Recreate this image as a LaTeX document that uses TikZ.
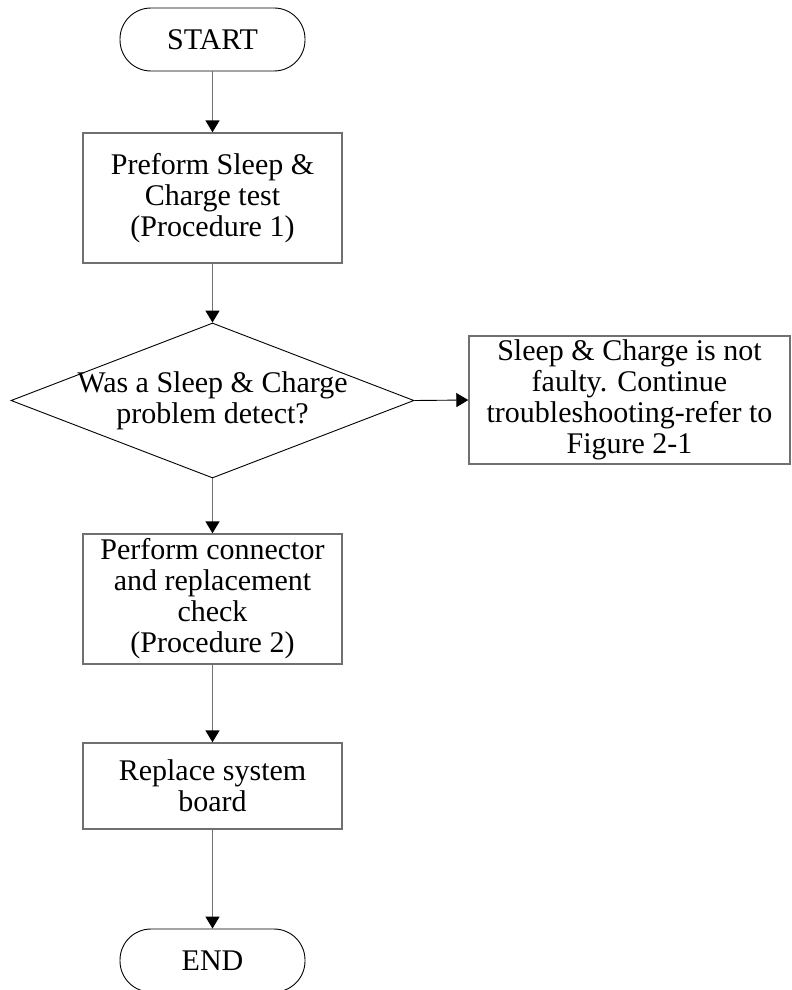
\documentclass[tikz,border=0pt]{standalone}
\usepackage{fontspec}
\setmainfont{Liberation Serif}
\usepackage{tikz}
\usetikzlibrary{shapes.geometric,arrows.meta}
\usepackage{xcolor}
\definecolor{linegrey}{RGB}{112,112,112}
\newcommand{\flowfont}{\fontsize{30}{31}\selectfont}
\tikzset{
    term/.style={draw=black, rounded corners=31pt, line width=0.9pt,
                 minimum width=185pt, minimum height=63pt, font=\flowfont},
    proc/.style={draw=linegrey, line width=1.4pt, inner sep=0pt,
                 minimum width=259pt, minimum height=#1,
                 align=center, font=\flowfont},
    decide/.style={draw=black, diamond, line width=0.9pt, inner sep=0pt,
                   minimum width=403pt, minimum height=155pt},
}

\begin{document}
\begin{tikzpicture}[
    x=1pt, y=-1pt,
    arr/.style={-{Triangle[length=12pt,width=14pt,color=black]},
                line width=1.4pt, linegrey}
]
    \useasboundingbox (0,0) rectangle (792,990);

    \node[term] (start) at (212.5,39.5) {START};
    \node[proc=130pt] (sleeptest) at (212.5,198) {Preform Sleep \&\\Charge test\\(Procedure 1)};
    \node[decide] (detect) at (212.5,400.5) {};
    \node[font=\flowfont, align=center] (detecttext) at (detect.center) {Was a Sleep \& Charge\\problem detect?};
    \node[proc=128pt, minimum width=321pt] (notfaulty) at (629.5,400) {Sleep \& Charge is not\\faulty. Continue\\troubleshooting-refer to\\Figure 2-1};
    \node[proc=130pt] (conncheck) at (212.5,599) {Perform connector\\and replacement\\check\\(Procedure 2)};
    \node[proc=86pt] (replace) at (212.5,786) {Replace system\\board};
    \node[term] (end) at (212.5,960.5) {END};

    \draw[arr] (start.south) -- (sleeptest.north);
    \draw[arr] (sleeptest.south) -- (detect.north);
    \draw[arr, black, line width=0.9pt] (detect.east) -- (notfaulty.west);
    \draw[arr] (detect.south) -- (conncheck.north);
    \draw[arr] (conncheck.south) -- (replace.north);
    \draw[arr] (replace.south) -- (end.north);
\end{tikzpicture}
\end{document}
